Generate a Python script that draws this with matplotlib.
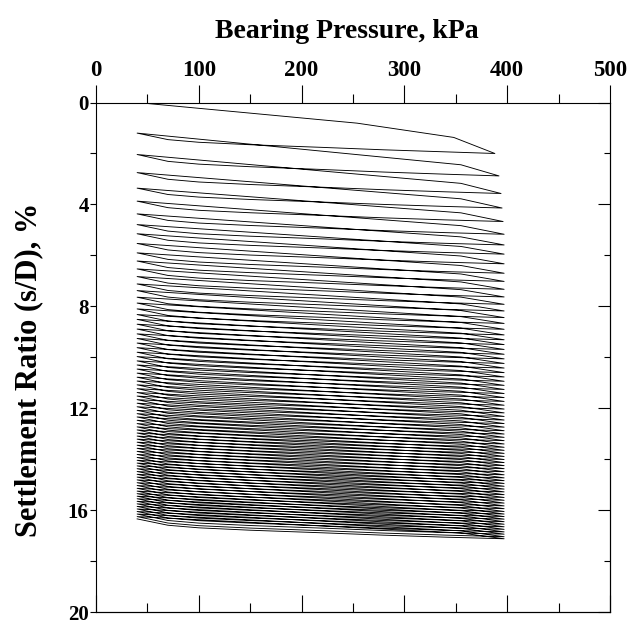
import matplotlib.pyplot as plt
from matplotlib.ticker import MultipleLocator

plt.rcParams['font.family'] = ['Liberation Serif', 'DejaVu Serif']
plt.rcParams['font.weight'] = 'bold'

# cyclic plate load test: bearing pressure (kPa) vs settlement ratio s/D (%)
p_min = 40  # seating pressure at the end of every unload
p_peak = [388, 392, 394, 395, 396] + [397] * 75

# virgin loading up to the first peak
p_first = [40, 254, 348, 388]
s_first = [0.00, 0.81, 1.37, 2.00]

# settlement at the seating pressure, start of each reload (last = after final unload)
s_min = [0.00, 1.20, 2.04, 2.75, 3.36, 3.87, 4.37, 4.79, 5.15, 5.53,
         5.90, 6.22, 6.53, 6.83, 7.12, 7.38, 7.64, 7.87, 8.10, 8.32,
         8.51, 8.70, 8.89, 9.08, 9.26, 9.44, 9.62, 9.80, 9.97, 10.14,
         10.30, 10.46, 10.62, 10.78, 10.93, 11.08, 11.23, 11.38, 11.52, 11.66,
         11.80, 11.94, 12.08, 12.21, 12.34, 12.47, 12.60, 12.73, 12.85, 12.97,
         13.09, 13.21, 13.33, 13.45, 13.57, 13.69, 13.81, 13.93, 14.04, 14.15,
         14.26, 14.37, 14.48, 14.59, 14.70, 14.81, 14.92, 15.03, 15.14, 15.25,
         15.35, 15.45, 15.55, 15.65, 15.75, 15.85, 15.95, 16.05, 16.15, 16.25,
         16.34]

# settlement at peak pressure of each cycle
s_peak = [2.00, 2.88, 3.57, 4.14, 4.67, 5.17, 5.59, 5.95, 6.33, 6.70,
          7.02, 7.33, 7.63, 7.92, 8.18, 8.44, 8.67, 8.90, 9.12, 9.31,
          9.50, 9.69, 9.88, 10.06, 10.24, 10.42, 10.60, 10.77, 10.94, 11.10,
          11.26, 11.42, 11.58, 11.73, 11.88, 12.03, 12.18, 12.32, 12.46, 12.60,
          12.74, 12.88, 13.01, 13.14, 13.27, 13.40, 13.53, 13.65, 13.77, 13.89,
          14.01, 14.13, 14.25, 14.37, 14.49, 14.61, 14.73, 14.84, 14.95, 15.06,
          15.17, 15.28, 15.39, 15.50, 15.61, 15.72, 15.83, 15.94, 16.05, 16.15,
          16.25, 16.35, 16.45, 16.55, 16.65, 16.75, 16.85, 16.94, 17.04, 17.12]

# reload path: fraction of (s_peak - s_min) reached at each pressure
reload_p = [40, 355]
reload_frac = [0.0, 0.74, 1.0]
# unload path: fraction of the rebound recovered at each pressure
unload_p = [340, 280, 220, 150, 100, 70, 40]
unload_frac = [0.0, 0.08, 0.18, 0.30, 0.43, 0.55, 0.68, 1.0]

px = list(p_first)
sy = list(s_first)
for n in range(len(s_peak)):
    if n > 0:
        for p, f in zip(reload_p + [p_peak[n]], reload_frac):
            px.append(p)
            sy.append(s_min[n] + f * (s_peak[n] - s_min[n]))
    for p, f in zip([p_peak[n]] + unload_p, unload_frac):
        px.append(p)
        sy.append(s_peak[n] - f * (s_peak[n] - s_min[n + 1]))

fig = plt.figure(figsize=(6.27, 6.24), dpi=100)
ax = fig.add_axes([0.1531, 0.019, 0.8198, 0.8167])
ax.plot(px, sy, color='black', lw=0.65)

ax.set_xlim(0, 500)
ax.set_ylim(20, 0)
ax.xaxis.set_major_locator(MultipleLocator(100))
ax.xaxis.set_minor_locator(MultipleLocator(50))
ax.yaxis.set_major_locator(MultipleLocator(4))
ax.yaxis.set_minor_locator(MultipleLocator(2))
ax.xaxis.set_ticks_position('top')
ax.xaxis.set_label_position('top')
ax.tick_params(axis='x', which='major', direction='out', length=12.7, width=0.8,
               labelsize=16.5, pad=3)
ax.tick_params(axis='x', which='minor', direction='out', length=6.3, width=0.8)
ax.tick_params(axis='y', which='major', direction='out', length=4.3, width=0.8,
               labelsize=15, pad=1)
ax.tick_params(axis='y', which='minor', direction='out', length=4.3, width=0.8)

# inward ticks on the bottom and right edges
bx = ax.secondary_xaxis('bottom')
bx.xaxis.set_major_locator(MultipleLocator(100))
bx.xaxis.set_minor_locator(MultipleLocator(50))
bx.tick_params(which='major', direction='in', length=12.3, width=0.8, labelbottom=False)
bx.tick_params(which='minor', direction='in', length=6.5, width=0.8)
ry = ax.secondary_yaxis('right')
ry.yaxis.set_major_locator(MultipleLocator(4))
ry.yaxis.set_minor_locator(MultipleLocator(2))
ry.tick_params(which='major', direction='in', length=8.6, width=0.8, labelright=False)
ry.tick_params(which='minor', direction='in', length=4.3, width=0.8)

for sp in list(ax.spines.values()) + list(bx.spines.values()) + list(ry.spines.values()):
    sp.set_linewidth(0.8)

ax.set_xlabel('Bearing Pressure, kPa', fontsize=20, fontweight='bold')
ax.xaxis.set_label_coords(0.488, 1.126)
ax.set_ylabel('Settlement Ratio (s/D), %', fontsize=22, fontweight='bold')
ax.yaxis.set_label_coords(-0.103, 0.475)

fig.savefig('out.png', dpi=100)
